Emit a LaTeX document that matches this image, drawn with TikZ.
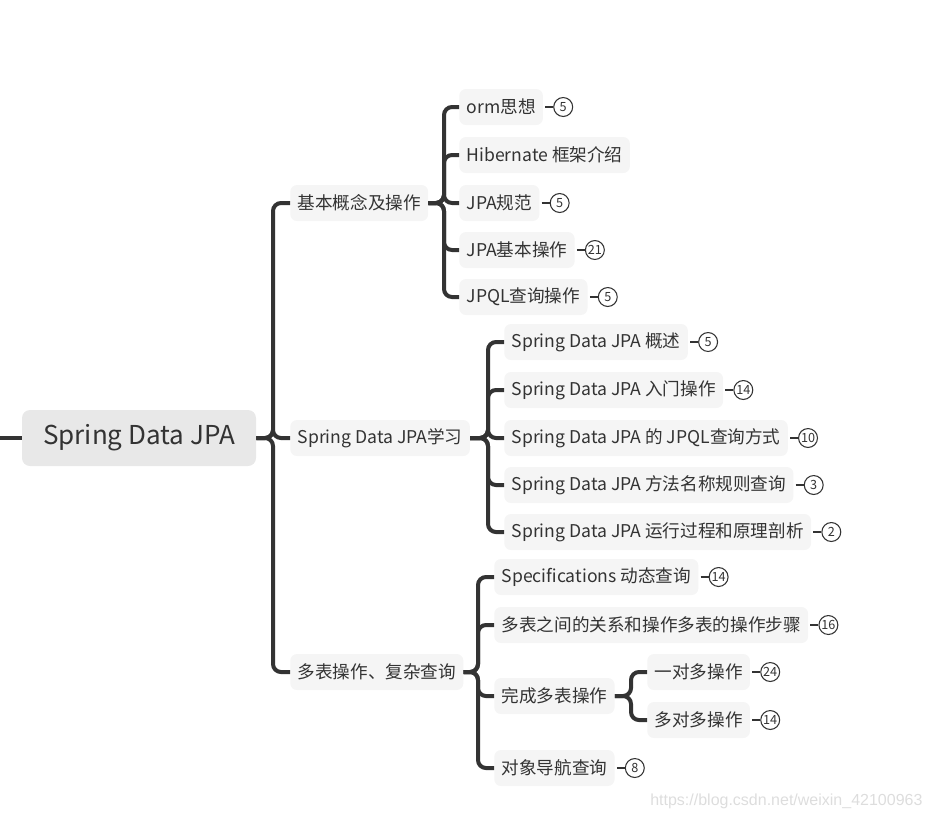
\documentclass[tikz,border=0pt]{standalone}
\usepackage{fontspec}
\setmainfont{Noto Sans CJK SC}
\newfontfamily\wmfont{Liberation Sans}
\usetikzlibrary{calc}
\definecolor{linec}{HTML}{333333}
\definecolor{txtc}{HTML}{333333}
\definecolor{rootfill}{HTML}{E8E8E8}
\definecolor{boxfill}{HTML}{F5F5F5}
\definecolor{wmc}{HTML}{DDDDDD}
\tikzset{
  rootbox/.style={fill=rootfill, rounded corners=6pt, minimum width=175.5pt, minimum height=42pt, font=\fontsize{19.5}{21}\selectfont, text=txtc},
  topicbox/.style={fill=boxfill, rounded corners=5pt, minimum height=27pt, inner xsep=5.5pt, font=\fontsize{13.2}{15}\selectfont, text=txtc, anchor=west},
  badge/.style={circle, draw=linec, line width=0.8pt, minimum size=14.2pt, inner sep=0pt, font=\fontsize{9.5}{10}\selectfont, text=txtc},
  conn/.style={draw=linec, line width=3pt, rounded corners=6pt},
  bconn/.style={draw=linec, line width=2.2pt},
}
\newcommand{\bdg}[3]{% node name, badge name, number
  \node[badge] (#2) at ($(#1.east)+(20,0)$) {#3};
  \draw[bconn] ($(#1.east)+(2,0)$) -- (#2.west);
}
\begin{document}
\begin{tikzpicture}[x=0.75pt,y=-0.75pt]
\useasboundingbox (0,0) rectangle (930,819);

% root
\node[rootbox] (root) at (139,438) {Spring Data JPA};
\coordinate (lft) at (0,438);
\draw[conn] (lft) -- (root.west);

% level 1
\node[topicbox] (a) at (290,203) {基本概念及操作};
\node[topicbox] (b) at (290,438) {Spring Data JPA学习};
\node[topicbox] (c) at (290,672) {多表操作、复杂查询};
\coordinate (t0) at (273,438);
\foreach \n in {a,b,c} \draw[conn] (root.east) -- (t0) |- (\n.west);

% group a
\node[topicbox] (a1) at (459,107) {orm思想};
\node[topicbox] (a2) at (459,155) {Hibernate 框架介绍};
\node[topicbox] (a3) at (459,203) {JPA规范};
\node[topicbox] (a4) at (459,250) {JPA基本操作};
\node[topicbox] (a5) at (459,297) {JPQL查询操作};
\coordinate (ta) at (444,203);
\foreach \n in {a1,a2,a3,a4,a5} \draw[conn] (a.east) -- (ta) |- (\n.west);
\bdg{a1}{ba1}{5}
\bdg{a3}{ba3}{5}
\bdg{a4}{ba4}{21}
\bdg{a5}{ba5}{5}

% group b
\node[topicbox] (b1) at (504,342) {Spring Data JPA 概述};
\node[topicbox] (b2) at (504,390) {Spring Data JPA 入门操作};
\node[topicbox] (b3) at (504,438) {Spring Data JPA 的 JPQL查询方式};
\node[topicbox] (b4) at (504,485) {Spring Data JPA 方法名称规则查询};
\node[topicbox] (b5) at (504,532) {Spring Data JPA 运行过程和原理剖析};
\coordinate (tb) at (488,438);
\foreach \n in {b1,b2,b3,b4,b5} \draw[conn] (b.east) -- (tb) |- (\n.west);
\bdg{b1}{bb1}{5}
\bdg{b2}{bb2}{14}
\bdg{b3}{bb3}{10}
\bdg{b4}{bb4}{3}
\bdg{b5}{bb5}{2}

% group c
\node[topicbox] (c1) at (494,577) {Specifications 动态查询};
\node[topicbox] (c2) at (494,625) {多表之间的关系和操作多表的操作步骤};
\node[topicbox] (c3) at (494,696) {完成多表操作};
\node[topicbox] (c4) at (494,768) {对象导航查询};
\coordinate (tc) at (478,672);
\foreach \n in {c1,c2,c3,c4} \draw[conn] (c.east) -- (tc) |- (\n.west);
\bdg{c1}{bc1}{14}
\bdg{c2}{bc2}{16}
\bdg{c4}{bc4}{8}

% sub group c3
\node[topicbox] (d1) at (647,672) {一对多操作};
\node[topicbox] (d2) at (647,720) {多对多操作};
\coordinate (td) at (631,696);
\foreach \n in {d1,d2} \draw[conn] (c3.east) -- (td) |- (\n.west);
\bdg{d1}{bd1}{24}
\bdg{d2}{bd2}{14}

% watermark
\node[anchor=west, text=wmc, font=\wmfont\fontsize{12}{14}\selectfont, inner sep=0pt] (wm) at (650,801) {https://blog.csdn.net/weixin\_42100963};
\end{tikzpicture}
\end{document}
